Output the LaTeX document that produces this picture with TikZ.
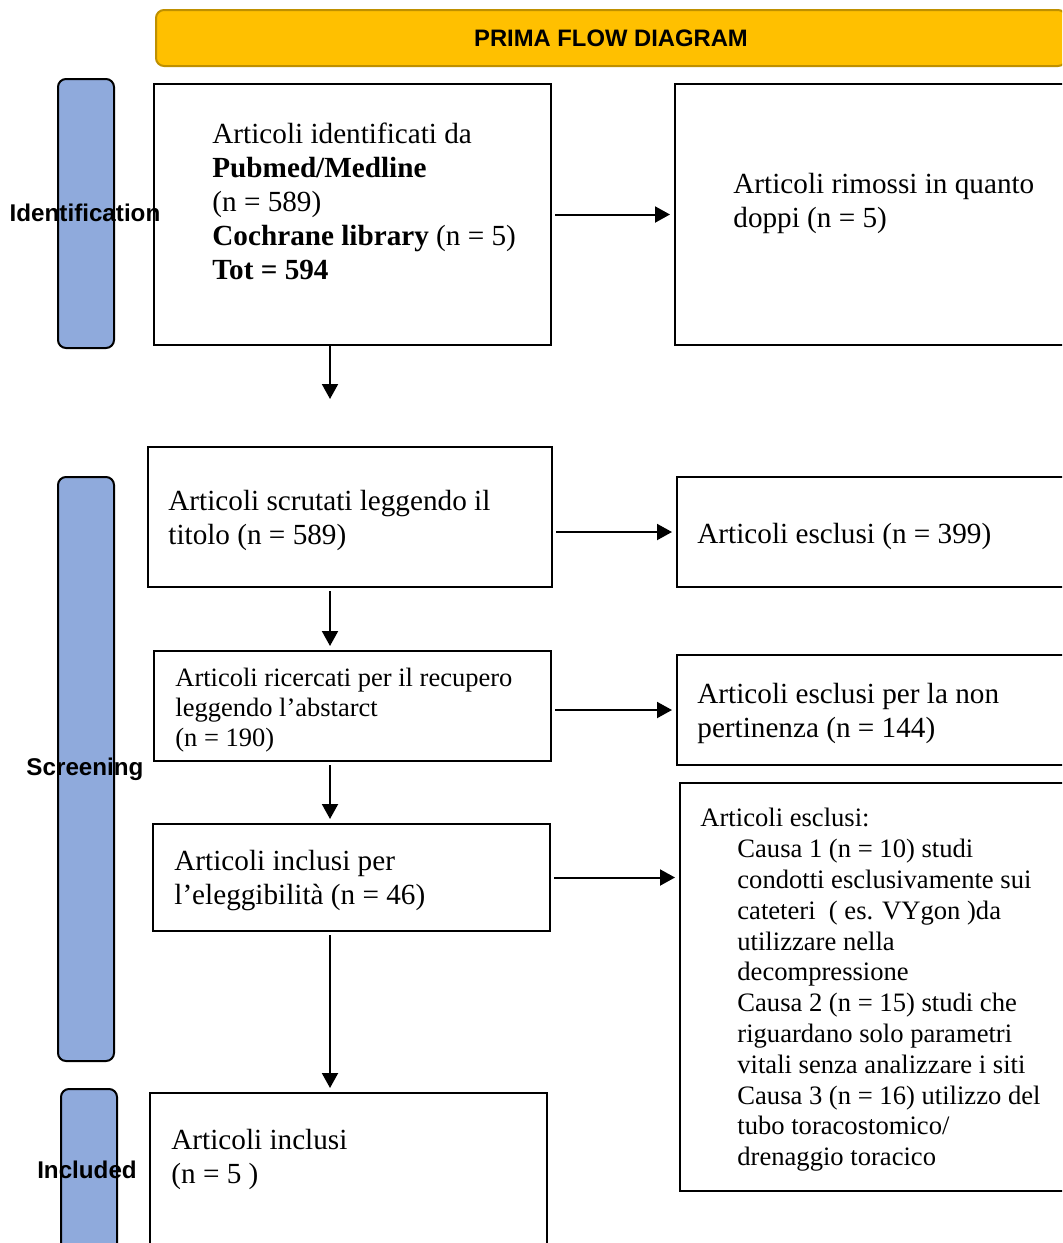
\documentclass[tikz,border=0pt]{standalone}
\usepackage{fontspec}
\setmainfont{Liberation Serif}
\setsansfont{Liberation Sans}
\usepackage{tikz}
\usetikzlibrary{arrows.meta}
\usepackage{xcolor}
\definecolor{Banner}{RGB}{255,192,0}
\definecolor{BannerEdge}{RGB}{191,144,0}
\definecolor{Phase}{RGB}{143,170,220}

\tikzset{
  box/.style={draw, line width=1pt, anchor=north west, inner sep=0pt},
  txt/.style={anchor=north west, align=left, inner sep=0pt, font=\fontsize{14.6}{17}\selectfont},
  smalltxt/.style={txt, font=\fontsize{13.25}{15}\selectfont},
  phase/.style={draw, line width=1pt, fill=Phase, rounded corners=4pt, anchor=north west, inner sep=0pt, minimum width=28pt},
  phaselabel/.style={font=\sffamily\bfseries\fontsize{12.1}{14}\selectfont},
  link/.style={->, line width=1pt, shorten <=1.5pt, shorten >=2pt}
}

\begin{document}
\begin{tikzpicture}[x=0.5pt, y=-0.5pt, >={Triangle[length=7.5pt,width=8pt]}]
\useasboundingbox (0,0) rectangle (1062,1243);
\clip (0,0) rectangle (1062,1243);

% banner
\node[draw=BannerEdge, line width=1pt, fill=Banner, rounded corners=4pt, minimum width=455pt, minimum height=28pt,
  font=\sffamily\bfseries\fontsize{11.9}{14}\selectfont] (title) at (611,38) {PRIMA FLOW DIAGRAM};

% phase bars
\node[phase, minimum height=134.5pt] (idbar) at (57,78) {};
\node[phase, minimum height=292pt] (scbar) at (57,476) {};
\node[phase, minimum height=90pt] (inbar) at (60,1088) {};

% boxes
\node[box, minimum width=198.5pt, minimum height=130.5pt] (ident) at (153,83) {};
\node[box, minimum width=213pt, minimum height=130.5pt] (dup) at (674,83) {};
\node[box, minimum width=202pt, minimum height=70pt] (scr) at (147,446) {};
\node[box, minimum width=212pt, minimum height=55pt] (excl) at (676,476) {};
\node[box, minimum width=198.5pt, minimum height=55pt] (abs) at (153,650) {};
\node[box, minimum width=212pt, minimum height=55pt] (nonpert) at (676,654) {};
\node[box, minimum width=198.5pt, minimum height=53.5pt] (elig) at (152,823) {};
\node[box, minimum width=210.5pt, minimum height=204pt] (causes) at (679,782) {};
\node[box, minimum width=198.5pt, minimum height=104pt] (incl) at (149,1092) {};

% texts
\node[txt] (identtxt) at (212,119) {\strut Articoli identificati da\\\textbf{Pubmed/Medline}\\(n = 589)\\\textbf{Cochrane library} (n = 5)\\\textbf{Tot = 594}};
\node[txt] (duptxt) at (733,169) {\strut Articoli rimossi in quanto\\doppi (n = 5)};
\node[txt] (scrtxt) at (168,486) {\strut Articoli scrutati leggendo il\\titolo (n = 589)};
\node[txt] (excltxt) at (697,519) {\strut Articoli esclusi (n = 399)};
\node[smalltxt] (abstxt) at (175,665) {\strut Articoli ricercati per il recupero\\leggendo l’abstarct\\(n = 190)};
\node[txt] (nonperttxt) at (697,679) {\strut Articoli esclusi per la non\\pertinenza (n = 144)};
\node[txt] (eligtxt) at (174,846) {\strut Articoli inclusi per\\l’eleggibilità (n = 46)};
\node[txt, font=\fontsize{13.3}{15.4}\selectfont] (causestxt) at (700,805) {\strut Articoli esclusi:\\
  \hspace*{18.5pt}Causa 1 (n = 10) studi\\
  \hspace*{18.5pt}condotti esclusivamente sui\\
  \hspace*{18.5pt}cateteri\ \ ( es. VYgon )da\\
  \hspace*{18.5pt}utilizzare nella\\
  \hspace*{18.5pt}decompressione\\
  \hspace*{18.5pt}Causa 2 (n = 15) studi che\\
  \hspace*{18.5pt}riguardano solo parametri\\
  \hspace*{18.5pt}vitali senza analizzare i siti\\
  \hspace*{18.5pt}Causa 3 (n = 16) utilizzo del\\
  \hspace*{18.5pt}tubo toracostomico/\\
  \hspace*{18.5pt}drenaggio toracico};
\node[txt] (incltxt) at (171,1125) {\strut Articoli inclusi\\(n = 5 )};

% connectors
\coordinate (down) at (330,403);
\draw[link] (ident) -- (dup);
\draw[link, shorten <=0pt] (ident.south -| down) -- (down);
\draw[link] (scr.east |- excl) -- (excl);
\draw[link] (scr.south -| down) -- (abs.north -| down);
\draw[link] (abs.east |- nonpert) -- (nonpert);
\draw[link] (abs.south -| down) -- (elig.north -| down);
\draw[link] (elig) -- (elig -| causes.west);
\draw[link] (elig.south -| down) -- (incl.north -| down);

% phase labels
\node[phaselabel] (idlabel) at (85,213) {Identification};
\node[phaselabel] (sclabel) at (85,769) {Screening};
\node[phaselabel] (inlabel) at (87,1170) {Included};
\end{tikzpicture}
\end{document}
